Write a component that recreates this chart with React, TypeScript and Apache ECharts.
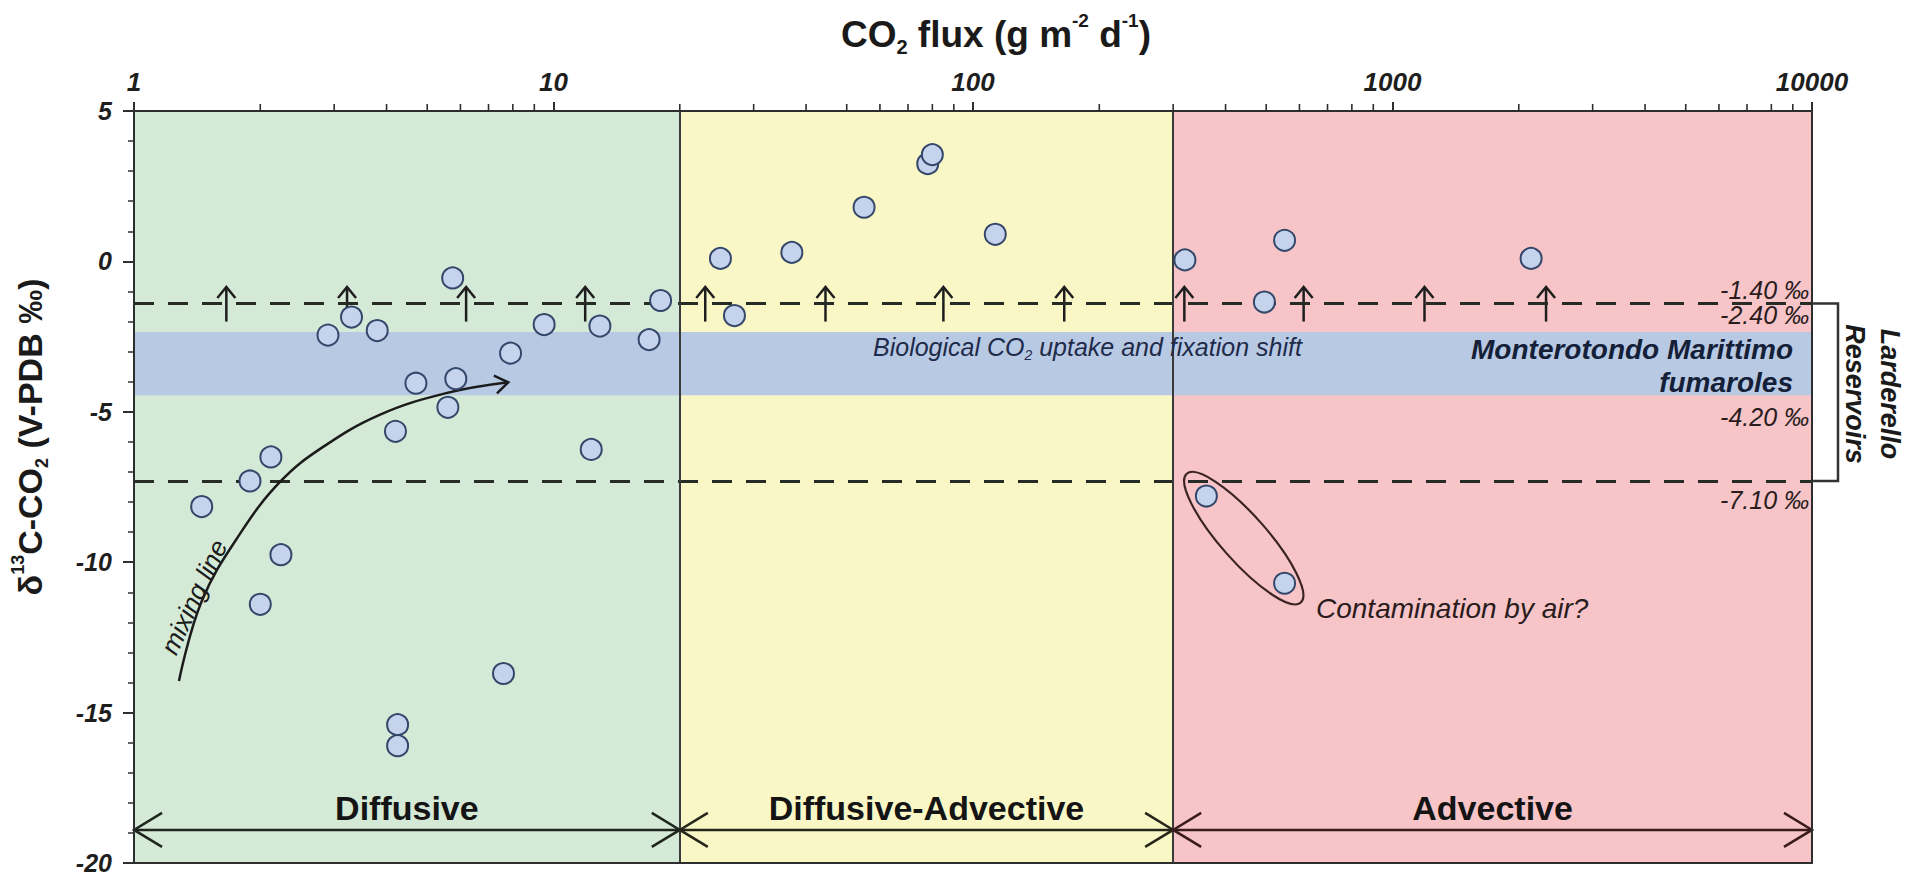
import { useEffect, useRef } from 'react';
import * as echarts from 'echarts';

const FONT = '"Liberation Sans", Arial, Helvetica, sans-serif';

const xTickLabels = ['1', '10', '100', '1000', '10000'];
const yTickLabels = ['-20', '-15', '-10', '-5', '0', '5'];

const fluxValues = [
  5.75, 18, 3.3, 2.9, 3.8, 9.5, 12.9, 16.9, 7.9, 4.7, 5.85, 5.6, 4.2, 12.3, 2.12, 1.89, 1.45, 2.24, 2.0, 7.6, 4.25, 4.25,
  25, 27, 37, 55, 78, 80, 113,
  320, 495, 553, 2140, 360, 553,
];
const deltaValues = [
  -0.55, -1.3, -1.85, -2.45, -2.3, -2.1, -2.15, -2.6, -3.05, -4.05, -3.9, -4.85, -5.65, -6.25, -6.5, -7.3, -8.15, -9.75, -11.4, -13.7, -15.4, -16.1,
  0.1, -1.8, 0.3, 1.8, 3.25, 3.55, 0.9,
  0.05, -1.35, 0.7, 0.1, -7.8, -10.7,
];

const regionNames = ['Diffusive', 'Diffusive-Advective', 'Advective'];
const regionFrom = [1, 20, 300];
const regionTo = [20, 300, 10000];
const regionColors = ['#d4e9d6', '#faf7c7', '#f7c5c8'];
const regionArrowColors = ['#1e261e', '#26261a', '#3a1c1c'];
const regionArrowDelta = -18.9;

const fumaroleBand = [-2.35, -4.45];
const reservoirLimits = [-1.4, -7.3];

const shiftArrowFlux = [1.66, 3.22, 6.19, 11.9, 23, 44.5, 85, 165, 319, 614, 1192, 2323];
const shiftArrowFrom = -2.0;
const shiftArrowTo = -0.85;

const mixingFlux = [1.28, 1.45, 1.8, 2.24, 2.8, 3.85, 5.55, 7.8];
const mixingDelta = [-13.95, -11.3, -9.0, -7.3, -6.2, -5.1, -4.38, -4.02];

const airGroupCenter = [442, -9.2];

const minorTickFlux = [
  2, 3, 4, 5, 6, 7, 8, 9,
  20, 30, 40, 50, 60, 70, 80, 90,
  200, 300, 400, 500, 600, 700, 800, 900,
  2000, 3000, 4000, 5000, 6000, 7000, 8000, 9000,
];

export default function App() {
  const ref = useRef<HTMLDivElement>(null);

  useEffect(() => {
    const chart = echarts.init(ref.current as HTMLDivElement, null, { renderer: 'svg' });
    const axisColor = '#2e2e2e';

    const option: any = {
      animation: false,
      backgroundColor: '#ffffff',
      grid: { left: 134, right: 115, top: 111, bottom: 18, containLabel: false },
      xAxis: [
        {
          type: 'log', logBase: 10, min: 1, max: 10000, position: 'top', z: 20,
          axisLine: { show: true, onZero: false, lineStyle: { color: axisColor, width: 2 } },
          axisTick: { show: true, inside: false, length: 9, lineStyle: { color: axisColor, width: 2 } },
          splitLine: { show: false },
          axisLabel: {
            formatter: (v: number) => xTickLabels[Math.round(Math.log10(v))],
            fontFamily: FONT, fontSize: 26, fontWeight: 'bold', fontStyle: 'italic', color: '#1e1e1e', margin: 16,
          },
        },
        {
          type: 'log', logBase: 10, min: 1, max: 10000, position: 'bottom', z: 20,
          axisLine: { show: true, onZero: false, lineStyle: { color: axisColor, width: 2 } },
          axisTick: { show: false }, axisLabel: { show: false }, splitLine: { show: false },
        },
      ],
      yAxis: [
        {
          type: 'value', min: -20, max: 5, interval: 5, z: 20,
          axisLine: { show: true, onZero: false, lineStyle: { color: axisColor, width: 2 } },
          axisTick: { show: true, inside: false, length: 11, lineStyle: { color: axisColor, width: 2 } },
          minorTick: { show: true, splitNumber: 5, length: 6, lineStyle: { color: axisColor, width: 1.5 } },
          splitLine: { show: false }, minorSplitLine: { show: false },
          axisLabel: {
            formatter: (v: number) => yTickLabels[Math.round((v + 20) / 5)],
            fontFamily: FONT, fontSize: 25, fontWeight: 'bold', fontStyle: 'italic', color: '#1e1e1e', margin: 22,
          },
        },
        {
          type: 'value', min: -20, max: 5, position: 'right', z: 20,
          axisLine: { show: true, onZero: false, lineStyle: { color: axisColor, width: 2 } },
          axisTick: { show: false }, axisLabel: { show: false }, splitLine: { show: false },
        },
      ],
      series: [
        {
          type: 'line', data: [], z: 1, silent: true,
          markArea: {
            silent: true,
            data: regionFrom.map((f, i) => [
              { xAxis: f, itemStyle: { color: regionColors[i], opacity: 1 } },
              { xAxis: regionTo[i] },
            ]),
          },
        },
        {
          type: 'line', data: [], z: 2, silent: true,
          markArea: {
            silent: true,
            data: [[{ yAxis: fumaroleBand[0], itemStyle: { color: '#b8c9e4', opacity: 1 } }, { yAxis: fumaroleBand[1] }]],
          },
        },
        {
          type: 'line', data: [], z: 3, silent: true,
          markLine: {
            silent: true, symbol: ['none', 'none'], label: { show: false },
            data: [
              ...reservoirLimits.map((v) => ({ yAxis: v, lineStyle: { type: [20, 14], width: 3, color: '#262b26' } })),
              ...[regionTo[0], regionTo[1]].map((v) => ({ xAxis: v, lineStyle: { type: 'solid', width: 2, color: '#3a3a3a' } })),
            ],
          },
        },
        {
          type: 'custom', z: 21, silent: true,
          data: minorTickFlux.map((v) => [v, 5]),
          renderItem: (params: any, api: any) => {
            const p = api.coord([api.value(0), 5]);
            return { type: 'line', shape: { x1: p[0], y1: p[1], x2: p[0], y2: p[1] - 7 }, style: { stroke: axisColor, lineWidth: 1.6 } };
          },
        },
        {
          type: 'custom', z: 4, silent: true,
          data: shiftArrowFlux.map((v) => [v, shiftArrowFrom, shiftArrowTo]),
          encode: { x: 0, y: [1, 2] },
          renderItem: (params: any, api: any) => {
            const b = api.coord([api.value(0), api.value(1)]);
            const t = api.coord([api.value(0), api.value(2)]);
            return {
              type: 'group',
              children: [
                { type: 'line', shape: { x1: b[0], y1: b[1], x2: t[0], y2: t[1] }, style: { stroke: '#1e1e1e', lineWidth: 2.5 } },
                { type: 'polyline', shape: { points: [[t[0] - 9, t[1] + 11], [t[0], t[1]], [t[0] + 9, t[1] + 11]] }, style: { stroke: '#1e1e1e', lineWidth: 2.5, fill: 'none' } },
              ],
            };
          },
        },
        {
          type: 'custom', z: 5, silent: true,
          data: [[mixingFlux[0], mixingDelta[0]]],
          renderItem: (params: any, api: any) => {
            const pts = mixingFlux.map((f, k) => api.coord([f, mixingDelta[k]]));
            const tip = pts[pts.length - 1];
            const prev = pts[pts.length - 2];
            const dx = tip[0] - prev[0];
            const dy = tip[1] - prev[1];
            const L = Math.hypot(dx, dy) || 1;
            const ux = dx / L, uy = dy / L;
            const px = -uy, py = ux;
            const back = 13, half = 9;
            const head = [
              [tip[0] - ux * back + px * half, tip[1] - uy * back + py * half],
              [tip[0], tip[1]],
              [tip[0] - ux * back - px * half, tip[1] - uy * back - py * half],
            ];
            return {
              type: 'group',
              children: [
                { type: 'polyline', shape: { points: pts, smooth: 0.4 }, style: { stroke: '#1b1b1b', lineWidth: 2.5, fill: 'none' } },
                { type: 'polyline', shape: { points: head }, style: { stroke: '#1b1b1b', lineWidth: 2.5, fill: 'none' } },
              ],
            };
          },
        },
        {
          type: 'custom', z: 5, silent: true,
          data: [airGroupCenter],
          renderItem: (params: any, api: any) => {
            const c = api.coord([api.value(0), api.value(1)]);
            return {
              type: 'ellipse', x: c[0], y: c[1], rotation: (-48.5 * Math.PI) / 180,
              shape: { cx: 0, cy: 0, rx: 86, ry: 23 },
              style: { fill: 'none', stroke: '#3b2424', lineWidth: 2.2 },
            };
          },
        },
        {
          type: 'custom', z: 5, silent: true,
          data: [[10000, reservoirLimits[0], reservoirLimits[1]]],
          encode: { x: 0, y: [1, 2] },
          renderItem: (params: any, api: any) => {
            const a = api.coord([api.value(0), api.value(1)]);
            const b = api.coord([api.value(0), api.value(2)]);
            return {
              type: 'polyline',
              shape: { points: [[a[0] + 1, a[1]], [a[0] + 26, a[1]], [a[0] + 26, b[1]], [a[0] + 1, b[1]]] },
              style: { stroke: '#333333', lineWidth: 2.5, fill: 'none' },
            };
          },
        },
        {
          type: 'custom', z: 6, silent: true,
          data: regionFrom.map((f, i) => [f, regionTo[i], regionArrowDelta]),
          encode: { x: [0, 1], y: 2 },
          renderItem: (params: any, api: any) => {
            const i = params.dataIndex;
            const a = api.coord([api.value(0), api.value(2)]);
            const b = api.coord([api.value(1), api.value(2)]);
            const col = regionArrowColors[i];
            const mk = () => ({ stroke: col, lineWidth: 2.5, fill: 'none' });
            return {
              type: 'group',
              children: [
                { type: 'line', shape: { x1: a[0], y1: a[1], x2: b[0], y2: b[1] }, style: mk() },
                { type: 'polyline', shape: { points: [[a[0] + 28, a[1] - 17], [a[0], a[1]], [a[0] + 28, a[1] + 17]] }, style: mk() },
                { type: 'polyline', shape: { points: [[b[0] - 28, b[1] - 17], [b[0], b[1]], [b[0] - 28, b[1] + 17]] }, style: mk() },
                {
                  type: 'text', x: (a[0] + b[0]) / 2, y: a[1] - 22,
                  style: { text: regionNames[i], fill: '#141414', fontSize: 34, fontWeight: 'bold', fontFamily: FONT, align: 'center', verticalAlign: 'middle' },
                },
              ],
            };
          },
        },
        {
          type: 'scatter', z: 10,
          data: fluxValues.map((f, i) => [f, deltaValues[i]]),
          symbol: 'circle', symbolSize: 21,
          itemStyle: { color: '#c5d4ec', borderColor: '#34476b', borderWidth: 2, opacity: 1 },
        },
      ],
      graphic: [
        {
          type: 'text', x: 996, y: 34, z: 50,
          style: {
            text: '{a|CO}{s|2}{a| flux (g m}{p|-2}{a| d}{p|-1}{a|)}',
            align: 'center', verticalAlign: 'middle',
            rich: {
              a: { fontSize: 37, fontWeight: 'bold', fontFamily: FONT, fill: '#1a1a1a', lineHeight: 46 },
              s: { fontSize: 20, fontWeight: 'bold', fontFamily: FONT, fill: '#1a1a1a', lineHeight: 20, verticalAlign: 'bottom' },
              p: { fontSize: 19, fontWeight: 'bold', fontFamily: FONT, fill: '#1a1a1a', lineHeight: 24, verticalAlign: 'top' },
            },
          },
        },
        {
          type: 'text', x: 30, y: 437, rotation: Math.PI / 2, z: 50,
          style: {
            text: '{a|δ}{p|13}{a|C-CO}{s|2}{a| (V-PDB ‰)}',
            align: 'center', verticalAlign: 'middle',
            rich: {
              a: { fontSize: 34, fontWeight: 'bold', fontFamily: FONT, fill: '#1a1a1a', lineHeight: 42 },
              s: { fontSize: 18, fontWeight: 'bold', fontFamily: FONT, fill: '#1a1a1a', lineHeight: 20, verticalAlign: 'bottom' },
              p: { fontSize: 18, fontWeight: 'bold', fontFamily: FONT, fill: '#1a1a1a', lineHeight: 20, verticalAlign: 'top' },
            },
          },
        },
        ...[
          ['-1.40 ‰', 290], ['-2.40 ‰', 315], ['-4.20 ‰', 417], ['-7.10 ‰', 500],
        ].map(([t, y]) => ({
          type: 'text', x: 1809, y: y as number, z: 50,
          style: { text: t as string, fill: '#2a1c1c', fontSize: 25, fontStyle: 'italic', fontFamily: FONT, align: 'right', verticalAlign: 'middle' },
        })),
        {
          type: 'text', x: 1793, y: 366, z: 50,
          style: {
            text: 'Monterotondo Marittimo\nfumaroles', fill: '#142038', fontSize: 28, fontWeight: 'bold', fontStyle: 'italic',
            fontFamily: FONT, align: 'right', verticalAlign: 'middle', lineHeight: 33,
          },
        },
        {
          type: 'text', x: 873, y: 347, z: 50,
          style: {
            text: '{a|Biological CO}{s|2}{a| uptake and fixation shift}',
            align: 'left', verticalAlign: 'middle',
            rich: {
              a: { fontSize: 25, fontStyle: 'italic', fontFamily: FONT, fill: '#1f2b4a', lineHeight: 30 },
              s: { fontSize: 14, fontStyle: 'italic', fontFamily: FONT, fill: '#1f2b4a', lineHeight: 14, verticalAlign: 'bottom' },
            },
          },
        },
        {
          type: 'text', x: 1316, y: 608, z: 50,
          style: { text: 'Contamination by air?', fill: '#2a1c1c', fontSize: 28, fontStyle: 'italic', fontFamily: FONT, align: 'left', verticalAlign: 'middle' },
        },
        {
          type: 'text', x: 194, y: 597, rotation: (65 * Math.PI) / 180, z: 50,
          style: { text: 'mixing line', fill: '#1b1b1b', fontSize: 26, fontStyle: 'italic', fontFamily: FONT, align: 'center', verticalAlign: 'middle' },
        },
        {
          type: 'text', x: 1872, y: 394, rotation: -Math.PI / 2, z: 50,
          style: {
            text: 'Larderello\nReservoirs', fill: '#1a1a1a', fontSize: 27, fontWeight: 'bold', fontStyle: 'italic',
            fontFamily: FONT, align: 'center', verticalAlign: 'middle', lineHeight: 35,
          },
        },
      ],
    };

    chart.setOption(option);
    return () => chart.dispose();
  }, []);

  return <div ref={ref} style={{ position: 'fixed', left: 0, top: 0, width: 1927, height: 881, background: '#ffffff' }} />;
}
